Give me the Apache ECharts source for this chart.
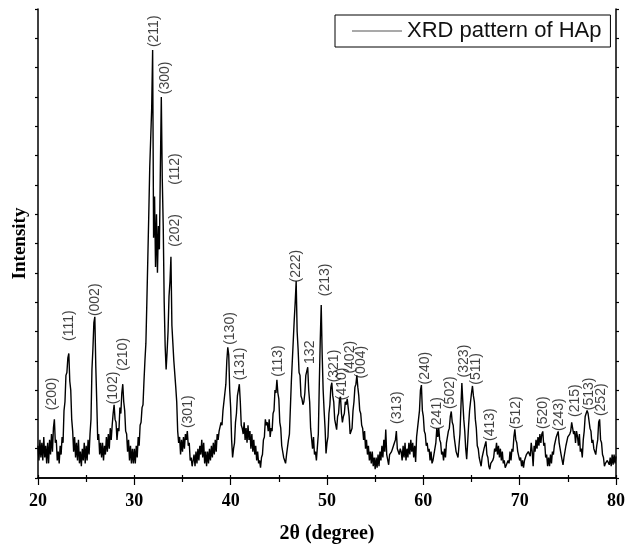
<!DOCTYPE html>
<html>
<head>
<meta charset="utf-8">
<script src="https://cdn.jsdelivr.net/npm/echarts@6/dist/echarts.min.js"></script>
<style>
html,body{margin:0;padding:0;background:#fff;}
#chart{width:628px;height:549px;}
</style>
</head>
<body>
<div id="chart"></div>
<script>
// Scan: 2θ from 20° to 80°, step 0.1°
const angleStart = 20;
const angleStep = 0.1;

// Intensity (arbitrary units), one row per degree
const intensity = [
  1.1, 0.6, 1.3, 0.7, 1.2, 0.6, 1.4, 0.7, 1.1, 0.5,   // 20
  1.2, 0.5, 1.3, 0.8, 1.5, 0.9, 1.7, 2.0, 1.2, 1.3,   // 21
  0.6, 0.9, 0.5, 1.1, 0.8, 1.4, 1.2, 2.3, 2.6, 3.5,   // 22
  3.6, 4.1, 4.25, 3.3, 3.0, 2.0, 1.6, 0.9, 1.4, 0.7,  // 23
  1.2, 0.6, 1.3, 0.5, 0.9, 0.4, 1.0, 0.6, 1.2, 0.5,   // 24
  1.1, 0.6, 1.3, 0.8, 1.5, 2.0, 3.7, 4.4, 5.3, 5.5,   // 25
  3.8, 2.6, 1.3, 1.5, 0.8, 1.2, 0.7, 1.2, 0.6, 1.1,   // 26
  0.8, 1.4, 0.9, 1.5, 1.0, 1.7, 1.3, 1.8, 2.2, 2.5,   // 27
  2.0, 1.9, 1.3, 1.7, 1.6, 2.4, 2.2, 2.9, 3.2, 2.6,   // 28
  2.3, 1.6, 1.5, 0.9, 1.3, 0.6, 1.1, 0.5, 1.0, 0.5,   // 29
  1.0, 0.5, 1.1, 0.7, 1.4, 1.1, 1.8, 1.9, 2.4, 2.5,   // 30
  3.3, 4.0, 4.6, 6.0, 7.5, 9.0, 10.6, 11.6, 12.6, 14.6, // 31
  8.2, 9.6, 7.2, 9.0, 7.0, 8.6, 7.8, 10.5, 13.0, 10.2,  // 32
  8.6, 6.0, 4.5, 3.7, 4.3, 5.0, 6.2, 6.7, 7.55, 5.2,  // 33
  4.6, 4.0, 4.0, 3.1, 2.6, 1.6, 1.2, 1.4, 0.8, 1.3,   // 34
  0.9, 1.4, 1.0, 1.5, 1.3, 1.6, 1.1, 1.2, 0.6, 0.7,   // 35
  0.4, 0.35, 0.8, 0.4, 0.9, 0.5, 1.0, 0.6, 1.1, 0.8,  // 36
  1.3, 0.7, 1.2, 0.5, 0.9, 0.4, 0.9, 0.5, 1.0, 0.6,   // 37
  1.1, 0.7, 1.2, 0.8, 1.3, 0.9, 1.5, 1.3, 1.6, 1.6,   // 38
  1.9, 1.8, 2.3, 2.3, 2.9, 3.2, 4.0, 4.46, 4.2, 3.0,  // 39
  2.4, 1.3, 0.7, 1.0, 1.2, 1.9, 2.2, 2.8, 3.0, 3.2,   // 40
  2.6, 1.8, 1.7, 1.5, 1.9, 1.3, 1.7, 1.2, 1.8, 1.3,   // 41
  1.6, 1.0, 1.5, 0.9, 1.3, 0.8, 1.1, 0.6, 0.9, 0.5,   // 42
  0.6, 0.35, 0.7, 0.8, 1.3, 1.4, 2.0, 1.8, 1.9, 1.6,  // 43
  2.0, 1.4, 1.7, 1.6, 2.2, 2.3, 3.0, 2.9, 3.35, 2.9,  // 44
  2.7, 1.9, 1.7, 1.1, 1.1, 0.7, 0.7, 0.5, 0.8, 0.8,   // 45
  1.3, 1.5, 2.4, 3.3, 4.0, 4.7, 5.4, 6.0, 6.72, 5.0,  // 46
  4.4, 3.6, 3.5, 2.8, 2.7, 2.5, 2.6, 2.9, 3.5, 3.5,   // 47
  3.78, 3.0, 2.6, 1.7, 1.7, 1.0, 1.4, 0.8, 0.9, 0.6,  // 48
  0.64, 1.5, 3.2, 4.7, 5.9, 4.2, 3.0, 2.3, 1.7, 0.84, // 49
  1.2, 1.4, 2.2, 2.5, 3.1, 3.25, 2.8, 2.6, 2.0, 2.0,  // 50
  1.65, 2.1, 2.2, 2.7, 2.77, 2.2, 1.9, 2.1, 2.2, 2.6, // 51
  2.5, 2.7, 2.4, 2.1, 1.5, 1.5, 1.7, 2.3, 2.6, 3.1,   // 52
  3.2, 3.5, 3.1, 2.8, 2.3, 2.2, 1.8, 1.7, 1.3, 1.6,   // 53
  1.0, 1.3, 0.8, 1.1, 0.6, 0.9, 0.5, 0.9, 0.4, 0.7,   // 54
  0.3, 0.7, 0.35, 0.8, 0.4, 0.9, 0.6, 1.1, 0.7, 1.3,  // 55
  0.9, 1.65, 0.8, 0.8, 0.45, 0.8, 0.8, 0.9, 1.0, 1.1, // 56
  1.2, 1.3, 1.6, 1.0, 1.0, 0.8, 1.0, 0.9, 0.6, 1.1,   // 57
  0.7, 1.2, 0.6, 1.0, 0.7, 1.2, 0.8, 1.3, 0.9, 1.2,   // 58
  0.7, 1.1, 0.55, 1.4, 1.7, 2.0, 2.3, 3.0, 3.17, 2.3, // 59
  2.1, 1.6, 1.5, 1.1, 1.2, 0.9, 1.0, 0.6, 0.9, 0.5,   // 60
  0.6, 0.6, 1.0, 1.2, 1.7, 1.4, 1.7, 1.3, 1.2, 0.8,   // 61
  0.9, 0.6, 1.0, 0.7, 1.2, 1.2, 1.6, 1.7, 2.1, 2.27,  // 62
  1.9, 1.8, 1.4, 1.4, 0.9, 0.9, 0.7, 0.64, 1.5, 2.4,  // 63
  3.24, 2.6, 2.0, 1.6, 1.0, 0.64, 1.2, 1.8, 2.3, 2.6, // 64
  2.9, 3.14, 2.8, 2.6, 2.0, 1.7, 1.1, 1.0, 0.7, 0.7,  // 65
  0.4, 0.7, 0.7, 1.0, 1.0, 1.25, 0.8, 0.7, 0.4, 0.3,  // 66
  0.5, 0.5, 0.6, 0.7, 1.0, 0.9, 1.2, 0.8, 1.1, 0.7,   // 67
  1.0, 0.6, 0.9, 0.5, 0.6, 0.35, 0.4, 0.3, 0.6, 0.5,  // 68
  0.9, 0.6, 1.0, 0.9, 1.4, 1.66, 1.3, 1.2, 0.9, 0.84, // 69
  0.6, 0.7, 0.4, 0.6, 0.35, 0.6, 0.6, 0.8, 0.8, 0.9,  // 70
  0.9, 0.74, 1.2, 0.9, 0.4, 1.1, 0.9, 1.3, 1.0, 1.4,  // 71
  1.1, 1.5, 1.2, 1.5, 1.59, 1.1, 1.2, 0.7, 0.8, 0.4,  // 72
  0.7, 0.4, 0.8, 0.5, 0.9, 0.8, 1.1, 1.1, 1.4, 1.4,   // 73
  1.59, 1.2, 1.2, 0.8, 0.8, 0.45, 0.7, 0.7, 1.1, 1.1, // 74
  1.4, 1.4, 1.5, 1.6, 1.9, 1.93, 1.5, 1.6, 1.2, 1.6,  // 75
  1.42, 1.1, 1.5, 0.9, 1.0, 0.7, 1.3, 1.6, 2.1, 2.1,  // 76
  2.3, 2.2, 2.2, 1.7, 1.6, 1.2, 1.3, 1.0, 1.0, 0.8,   // 77
  1.1, 1.3, 1.9, 2.0, 1.3, 1.2, 0.8, 0.7, 0.4, 0.5,   // 78
  0.5, 0.6, 0.6, 0.45, 0.7, 0.4, 0.8, 0.45, 0.8, 0.5, // 79
  0.74                                                // 80
];

// Peak (hkl) annotations
const peakLabels = ['(200)','(111)','(002)','(102)','(210)','(211)','(300)','(112)','(202)','(301)',
  '(130)','(131)','(113)','(222)','132','(213)','(321)','(410)','(402)','(004)',
  '(313)','(240)','(241)','(502)','(323)','(511)','(413)','(512)','(520)','(243)',
  '(215)','(513)','(252)'];
const labelAngles = [21.44, 23.20, 25.88, 27.84, 28.87, 32.06, 33.20, 34.23, 34.23, 35.57,
  39.90, 41.03, 44.95, 46.80, 48.25, 49.79, 50.72, 51.55, 52.37, 53.51,
  57.32, 60.21, 61.44, 62.78, 64.23, 65.46, 66.91, 69.59, 72.47, 74.12,
  75.77, 77.22, 78.45];
const labelHeights = [2.87, 5.20, 6.08, 3.07, 4.22, 15.24, 13.65, 10.54, 8.45, 2.26,
  5.10, 3.89, 3.99, 7.23, 4.29, 6.76, 3.82, 3.21, 4.12, 3.95,
  2.40, 3.75, 2.20, 2.91, 3.99, 3.72, 1.82, 2.23, 2.23, 2.16,
  2.64, 2.87, 2.67];

const seriesName = 'XRD pattern of HAp';
const xTitle = '2θ (degree)';
const yTitle = 'Intensity';

const linePoints = intensity.map((v, i) => [+(angleStart + i * angleStep).toFixed(2), v]);
const labelPoints = peakLabels.map((t, i) => ({ name: t, value: [labelAngles[i], labelHeights[i]] }));

const serif = 'Liberation Serif, Times New Roman, serif';
const sans = 'Liberation Sans, Arial, sans-serif';
const axisLineStyle = { color: '#000', width: 1.5 };
const tickStyle = { color: '#000', width: 1.2 };

const chart = echarts.init(document.getElementById('chart'), null, { renderer: 'canvas' });
chart.setOption({
  animation: false,
  backgroundColor: '#fff',
  grid: { left: 38, right: 8, top: 9, bottom: 67 },
  legend: {
    data: [{ name: seriesName, icon: 'rect', itemStyle: { color: '#555' } }],
    left: 335, top: 15,
    padding: [5, 9, 5, 17],
    itemWidth: 50, itemHeight: 1,
    borderColor: '#000', borderWidth: 1,
    textStyle: { fontFamily: sans, fontSize: 22, color: '#111' }
  },
  xAxis: [
    {
      type: 'value', min: 20, max: 80, interval: 10, position: 'bottom',
      axisLine: { show: true, lineStyle: axisLineStyle },
      axisTick: { show: true, length: 7, lineStyle: tickStyle },
      minorTick: { show: true, splitNumber: 2, length: 4, lineStyle: tickStyle },
      splitLine: { show: false },
      axisLabel: { margin: 14, fontFamily: serif, fontWeight: 'bold', fontSize: 18, color: '#000' },
      name: xTitle, nameLocation: 'middle', nameGap: 46,
      nameTextStyle: { fontFamily: serif, fontWeight: 'bold', fontSize: 20, color: '#000' }
    },
    {
      type: 'value', min: 20, max: 80, interval: 5, position: 'top',
      axisLine: { show: true, lineStyle: axisLineStyle },
      axisTick: { show: true, length: 3, lineStyle: tickStyle },
      splitLine: { show: false },
      axisLabel: { show: false }
    }
  ],
  yAxis: [
    {
      type: 'value', min: 0, max: 16, interval: 1, position: 'left',
      axisLine: { show: true, lineStyle: axisLineStyle },
      axisTick: { show: true, length: 3, lineStyle: tickStyle },
      splitLine: { show: false },
      axisLabel: { show: false },
      name: yTitle, nameLocation: 'middle', nameGap: 8,
      nameTextStyle: { fontFamily: serif, fontWeight: 'bold', fontSize: 19, color: '#000' }
    },
    {
      type: 'value', min: 0, max: 16, interval: 1, position: 'right',
      axisLine: { show: true, lineStyle: axisLineStyle },
      axisTick: { show: true, length: 3, lineStyle: tickStyle },
      splitLine: { show: false },
      axisLabel: { show: false }
    }
  ],
  series: [
    {
      name: seriesName, type: 'line', xAxisIndex: 0, yAxisIndex: 0,
      data: linePoints, symbol: 'none', showSymbol: false,
      lineStyle: { color: '#000', width: 1.4 }, itemStyle: { color: '#000' },
      z: 3
    },
    {
      name: 'labels', type: 'scatter', xAxisIndex: 0, yAxisIndex: 0,
      data: labelPoints, symbolSize: 1, silent: true,
      itemStyle: { color: 'rgba(0,0,0,0)' },
      label: {
        show: true, position: 'inside', rotate: 90, formatter: '{b}',
        fontFamily: sans, fontSize: 14, color: '#111'
      },
      z: 4
    }
  ]
});
</script>
</body>
</html>
